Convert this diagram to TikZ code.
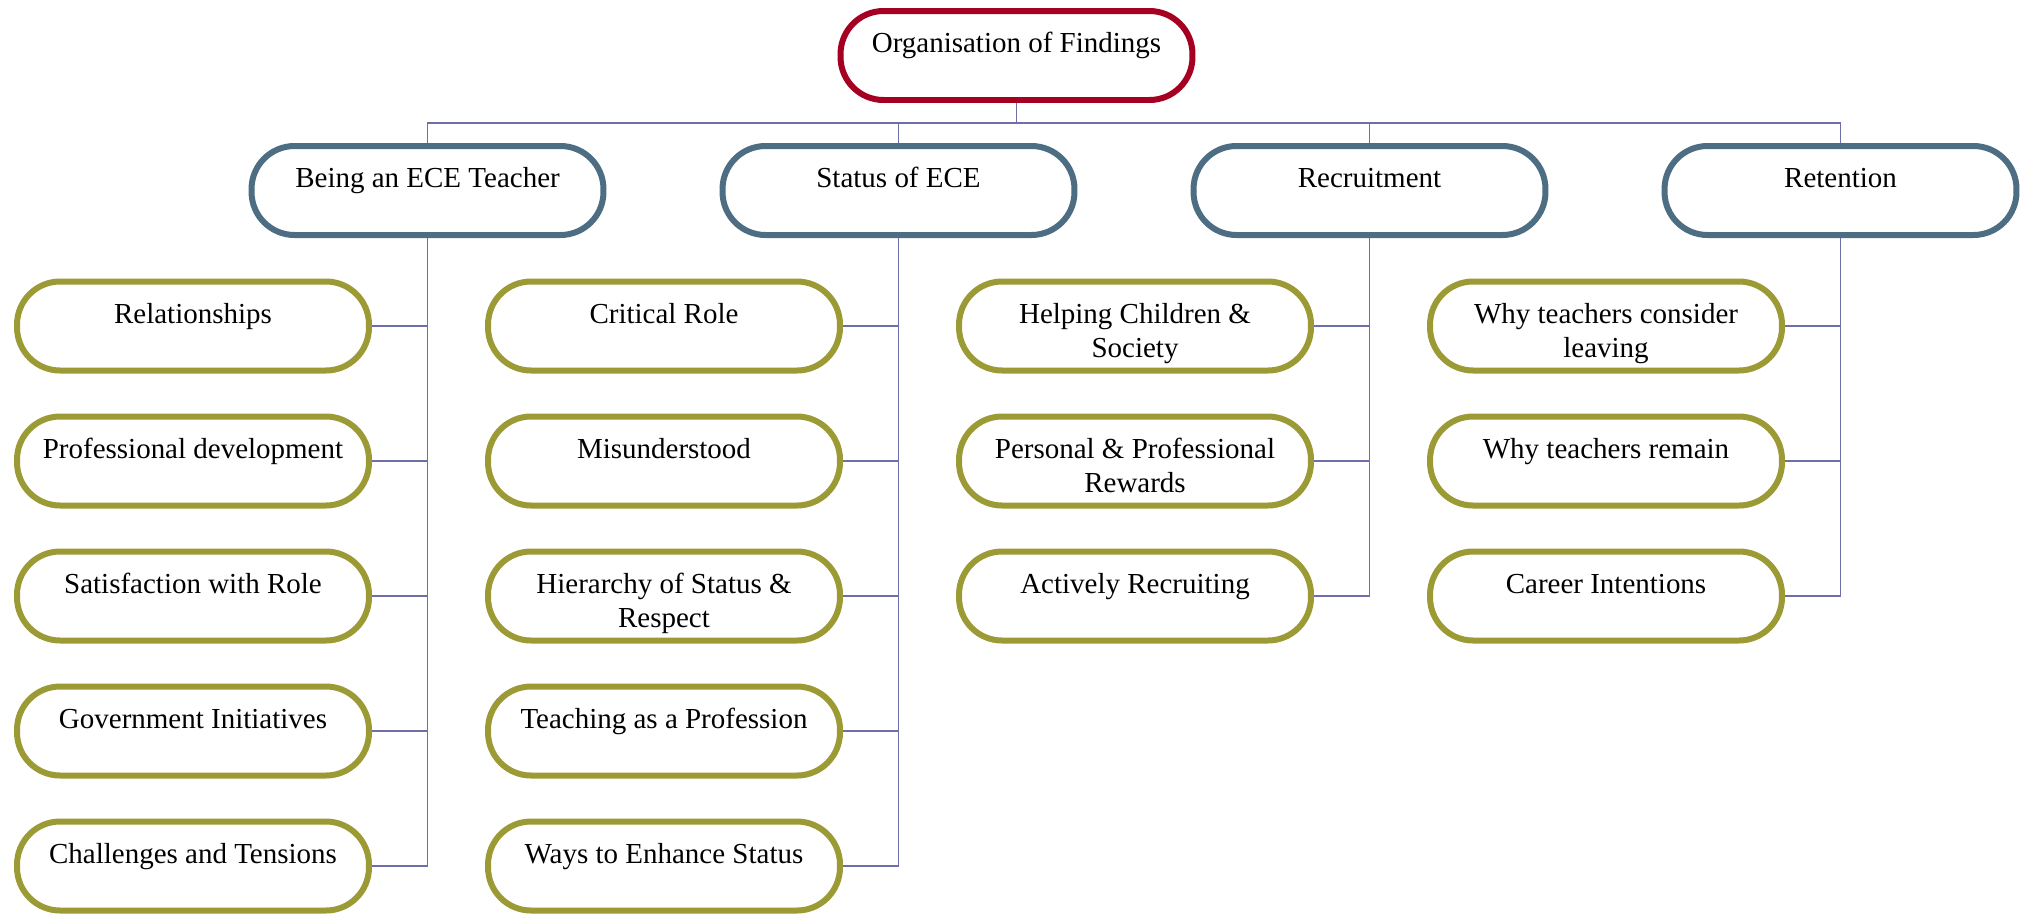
\documentclass[tikz,border=0pt]{standalone}
\usepackage{fontspec}
\setmainfont{Liberation Serif}
\usetikzlibrary{backgrounds}
\definecolor{rootred}{HTML}{A50021}
\definecolor{catblue}{HTML}{4C6D82}
\definecolor{leafolive}{HTML}{9B9A35}
\definecolor{linkblue}{HTML}{6E6EA8}
% text sits at the top of each pill
\newcommand{\pilltext}[1]{\parbox[c][1.06cm][t]{6.6cm}{\centering\strut #1}}
\tikzset{
  pill/.style={draw,line width=0.12cm,fill=white,rounded corners=0.86cm,
    minimum width=7.04cm,minimum height=1.78cm,inner sep=0pt},
  rootbox/.style={pill,draw=rootred},
  catbox/.style={pill,draw=catblue},
  leafbox/.style={pill,draw=leafolive},
  link/.style={draw=linkblue,line width=1.1pt}
}
\begin{document}
\begin{tikzpicture}[x=0.02cm,y=-0.02cm,font=\fontsize{16.5}{19.35}\selectfont]
  \useasboundingbox (0,0) rectangle (2027,914);
  \node[rootbox] (findings) at (1016.5,55.5) {\pilltext{Organisation of Findings}};
  \coordinate (bus) at (0,123);
  % four themes, each with its own column of sub-themes
  \foreach \cat/\x/\title/\list in {
      teacher/427.5/Being an ECE Teacher/{Relationships,Professional development,Satisfaction with Role,Government Initiatives,Challenges and Tensions},
      status/898.5/Status of ECE/{Critical Role,Misunderstood,Hierarchy of Status \&\\Respect,Teaching as a Profession,Ways to Enhance Status},
      recruit/1369.5/Recruitment/{Helping Children \&\\Society,Personal \& Professional\\Rewards,Actively Recruiting},
      retain/1840.5/Retention/{Why teachers consider\\leaving,Why teachers remain,Career Intentions}}{
    \node[catbox] (\cat) at (\x,190.5) {\pilltext{\title}};
    \begin{pgfonlayer}{background}
      \draw[link] (findings.south) |- (bus -| \cat) -- (\cat.north);
    \end{pgfonlayer}
    \foreach \txt [count=\j] in \list {
      \pgfmathsetmacro\y{326+135*(\j-1)}
      \node[leafbox] (\cat-\j) at ({\x-234.5},\y) {\pilltext{\txt}};
      \begin{pgfonlayer}{background}
        \draw[link] (\cat.south) |- (\cat-\j.east);
      \end{pgfonlayer}
    }
  }
\end{tikzpicture}
\end{document}
